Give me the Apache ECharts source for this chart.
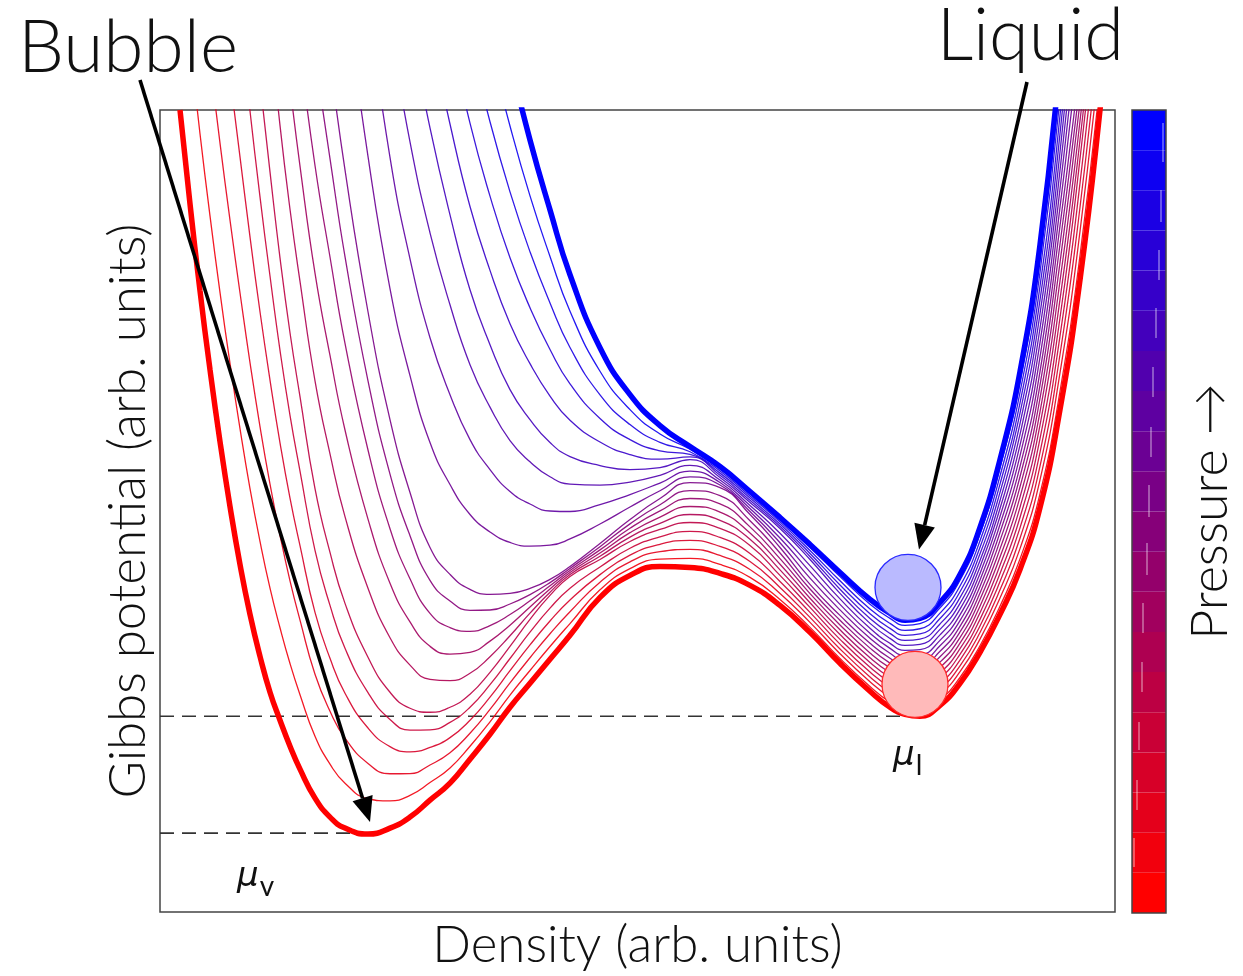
<!DOCTYPE html>
<html>
<head>
<meta charset="utf-8">
<script src="https://cdn.jsdelivr.net/npm/echarts@6/dist/echarts.min.js"></script>
<style>
  html, body { margin: 0; padding: 0; background: #ffffff; }
  #chart { width: 1243px; height: 976px; }
</style>
</head>
<body>
<div id="chart"></div>
<script>
// Density grid (arb. units)
const density = [10,20,30,40,50,60,70,80,90,100,110,120,130,140,155,170,185,208,230,250,270,290,310,330,350,370,390,410,440,470,500,530,560,590,620,650,680,710,730,745,760,780,800,820,840,860,880,900,920,940,955];

// Gibbs potential (arb. units) of the reference isobars, lowest to highest pressure.
// null = far outside the plotted window.
const isobarLevels = [0, 5, 10, 14, 19];
const isobarP0 = [903,803,709,622,543,471,406,348,298,256,220,192,166,143,114,95,84,78,84,95,112,129,153,178,205,229,253,277,315,337,346,345,339,327,307,280,249,221,205,198,196,207,229,260,298,343,405,503,633,803,958];
const isobarP5 = [null,1593,1503,1408,1313,1218,1123,1028,928,831,741,655,580,516,424,360,309,255,220,204,200,205,218,240,266,293,317,336,353,371,383,390,384,367,337,305,273,245,230,223,222,234,258,293,339,395,474,595,754,945,1108];
const isobarP10 = [null,null,null,null,null,null,null,null,null,null,1473,1318,1198,1093,963,853,743,601,493,420,365,338,323,318,319,324,333,346,369,393,414,430,425,398,365,328,297,269,254,247,247,261,286,326,380,446,541,687,849,1038,1203];
const isobarP14 = [null,null,null,null,null,null,null,null,null,null,null,null,null,null,null,null,1473,1223,1018,888,785,698,623,568,523,493,470,456,447,443,445,453,435,410,384,353,319,289,274,267,268,283,309,352,412,489,599,761,972,1201,1382];
const isobarP19 = [null,null,null,null,null,null,null,null,null,null,null,null,null,null,null,null,null,null,null,null,1273,1153,1040,940,853,773,703,638,565,518,487,466,446,421,395,368,340,313,299,292,294,310,338,385,453,541,668,853,1093,1343,1533];

// Pressure steps drawn (one isobar per step)
const pressureLevels = [0,1,2,3,4,5,6,7,8,9,10,11,12,13,14,15,16,17,18,19];

// Coexistence chemical potentials and where they are reached
const muVapour = { density: 208, potential: 79 };
const muLiquid = { density: 747, potential: 196 };

// States sitting in the liquid well (low and high pressure)
const liquidStates = [
  { density: 755, potential: 228, level: 0 },
  { density: 748, potential: 325, level: 19 }
];

const X_MAX = 955, Y_MAX = 803;
const FONT = 'Lato, "Liberation Sans", sans-serif';

const isobars = [isobarP0, isobarP5, isobarP10, isobarP14, isobarP19];
const lastLevel = pressureLevels[pressureLevels.length - 1];

function potentialAt(level, i) {
  let j = 0;
  while (j < isobarLevels.length - 2 && level > isobarLevels[j + 1]) j++;
  const a = isobars[j][i], b = isobars[j + 1][i];
  if (a == null || b == null) return null;
  const t = (level - isobarLevels[j]) / (isobarLevels[j + 1] - isobarLevels[j]);
  return a + (b - a) * t;
}

function levelColor(level, alpha) {
  const t = level / lastLevel;
  const r = Math.round(255 * (1 - t)), b = Math.round(255 * t);
  return alpha == null ? `rgb(${r},0,${b})` : `rgba(${r},0,${b},${alpha})`;
}

// keep the in-window stretch of a curve plus one point on each side
function windowed(ys) {
  const pts = [];
  const inside = v => v != null && v <= Y_MAX;
  for (let i = 0; i < density.length; i++) {
    const y = ys[i];
    if (y == null) continue;
    if (inside(y) || (i > 0 && inside(ys[i - 1])) || (i < density.length - 1 && inside(ys[i + 1]))) {
      pts.push([density[i], y]);
    }
  }
  return pts;
}

const series = [];
pressureLevels.forEach(level => {
  const ys = density.map((_, i) => potentialAt(level, i));
  const thick = level === 0 || level === lastLevel;
  series.push({
    type: 'line',
    xAxisIndex: 0, yAxisIndex: 0,
    data: windowed(ys),
    smooth: 0.5,
    symbol: 'none',
    clip: true,
    silent: true,
    z: thick ? 4 : 3,
    lineStyle: { color: levelColor(level, thick ? 1 : 0.9), width: thick ? 5.5 : 1.3 }
  });
});

// dashed coexistence levels
[muVapour, muLiquid].forEach(m => {
  series.push({
    type: 'line', xAxisIndex: 0, yAxisIndex: 0,
    data: [[0, m.potential], [m.density, m.potential]],
    symbol: 'none', silent: true, z: 2,
    lineStyle: { color: '#333', width: 1.6, type: [14, 8] }
  });
});

// balls in the liquid well
series.push({
  type: 'scatter', xAxisIndex: 0, yAxisIndex: 0,
  data: liquidStates.map(s => ({
    value: [s.density, s.potential],
    itemStyle: {
      color: s.level === 0 ? 'rgb(255,186,186)' : 'rgb(186,186,255)',
      borderColor: s.level === 0 ? '#ff2a2a' : '#2a2aff',
      borderWidth: 1.3, opacity: 1
    }
  })),
  symbol: 'circle', symbolSize: 66, silent: true, z: 6
});

// pressure colour bar
series.push({
  type: 'bar', xAxisIndex: 1, yAxisIndex: 1,
  data: pressureLevels.map(l => ({ value: 1, itemStyle: { color: levelColor(l) } })),
  barWidth: '100%', barCategoryGap: '0%', silent: true
});

const chart = echarts.init(document.getElementById('chart'), null, { renderer: 'canvas' });

const nameStyle = { fontFamily: FONT, fontWeight: 300, fontSize: 51, color: '#111' };

chart.setOption({
  animation: false,
  backgroundColor: '#ffffff',
  grid: [
    { left: 160, top: 110, width: 955, height: 803, show: true, borderColor: '#444', borderWidth: 1.5, backgroundColor: 'transparent' },
    { left: 1132, top: 110, width: 34, height: 803, show: true, borderColor: '#444', borderWidth: 1.5, backgroundColor: 'transparent', z: 5 }
  ],
  xAxis: [
    { type: 'value', gridIndex: 0, min: 0, max: X_MAX,
      axisLine: { show: false }, axisTick: { show: false }, axisLabel: { show: false }, splitLine: { show: false },
      name: 'Density (arb. units)', nameLocation: 'middle', nameGap: 8,
      nameTextStyle: Object.assign({}, nameStyle, { verticalAlign: 'top' }) },
    { type: 'value', gridIndex: 1, min: 0, max: 1, show: false }
  ],
  yAxis: [
    { type: 'value', gridIndex: 0, min: 0, max: Y_MAX,
      axisLine: { show: false }, axisTick: { show: false }, axisLabel: { show: false }, splitLine: { show: false },
      name: 'Gibbs potential (arb. units)', nameLocation: 'middle', nameGap: 6,
      nameTextStyle: nameStyle },
    { type: 'category', gridIndex: 1, data: pressureLevels, position: 'right',
      axisLine: { show: false }, axisTick: { show: false }, axisLabel: { show: false }, splitLine: { show: false },
      name: 'Pressure \u2192', nameLocation: 'middle', nameGap: 18, nameRotate: 90,
      nameTextStyle: Object.assign({}, nameStyle, { fontSize: 52 }) }
  ],
  series: series
});

// annotations
function px(d, p) { return chart.convertToPixel({ gridIndex: 0 }, [d, p]); }

function arrow(x1, y1, x2, y2) {
  const ang = Math.atan2(y2 - y1, x2 - x1);
  const len = 25, half = 10.5;
  const bx = x2 - len * Math.cos(ang), by = y2 - len * Math.sin(ang);
  const nx = -Math.sin(ang), ny = Math.cos(ang);
  return [
    { type: 'line', z: 20, silent: true, shape: { x1: x1, y1: y1, x2: bx, y2: by }, style: { stroke: '#000', lineWidth: 3.6 } },
    { type: 'polygon', z: 20, silent: true,
      shape: { points: [[x2, y2], [bx + nx * half, by + ny * half], [bx - nx * half, by - ny * half]] },
      style: { fill: '#000' } }
  ];
}

const graphics = [];
graphics.push({ type: 'text', z: 20, silent: true,
  style: { text: 'Bubble', x: 18, y: 48, textVerticalAlign: 'middle', font: '300 73px ' + FONT, fill: '#111' } });
graphics.push({ type: 'text', z: 20, silent: true,
  style: { text: 'Liquid', x: 1124, y: 37, textAlign: 'right', textVerticalAlign: 'middle', font: '300 72px ' + FONT, fill: '#111' } });

const bubbleTip = px(muVapour.density + 2, muVapour.potential + 11);
arrow(140, 80, bubbleTip[0], bubbleTip[1]).forEach(g => graphics.push(g));
const liquidTip = px(liquidStates[1].density + 11, liquidStates[1].potential + 38);
arrow(1027, 82, liquidTip[0], liquidTip[1]).forEach(g => graphics.push(g));

// chemical potential labels
const pv = px(muVapour.density, muVapour.potential);
const pl = px(muLiquid.density, muLiquid.potential);
function muLabel(x, y, sub) {
  return { type: 'text', z: 20, silent: true,
    style: {
      x: x, y: y,
      rich: {
        m: { fontFamily: '"DejaVu Sans", sans-serif', fontStyle: 'italic', fontSize: 34, fill: '#111' },
        s: { fontFamily: FONT, fontSize: 28, fill: '#111', padding: [20, 0, 0, 1] }
      },
      text: '{m|\u03bc}{s|' + sub + '}'
    } };
}
graphics.push(muLabel(pv[0] - 131, pv[1] + 20, 'v'));
graphics.push(muLabel(pl[0] - 14, pl[1] + 16, 'l'));

// faint tick marks inside the colour bar
const barTicks = [[1163,123,162],[1161,190,222],[1159,250,280],[1156,308,338],[1153,367,397],[1151,427,457],[1149,485,517],[1147,543,575],[1143,603,633],[1142,662,692],[1139,722,750],[1137,780,810],[1134,838,867]];
barTicks.forEach(t => graphics.push({ type: 'line', z: 20, silent: true,
  shape: { x1: t[0], y1: t[1], x2: t[0], y2: t[2] }, style: { stroke: 'rgba(255,255,255,0.45)', lineWidth: 1.5 } }));

chart.setOption({ graphic: graphics });
</script>
</body>
</html>
